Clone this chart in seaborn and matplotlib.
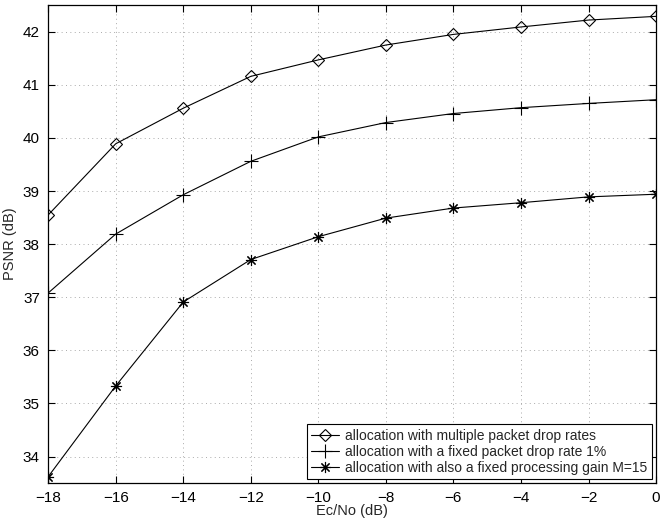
import matplotlib
matplotlib.use("Agg")
import matplotlib.pyplot as plt
import seaborn as sns
import pandas as pd

# Ec/No sweep (dB)
ecno = [-18, -16, -14, -12, -10, -8, -6, -4, -2, 0]

# PSNR (dB) for each allocation scheme
psnr_multi = [38.55, 39.89, 40.56, 41.16, 41.47, 41.75, 41.95, 42.09, 42.22, 42.29]
psnr_fixed_drop = [37.08, 38.19, 38.93, 39.56, 40.02, 40.29, 40.46, 40.57, 40.65, 40.72]
psnr_fixed_gain = [33.62, 35.33, 36.91, 37.71, 38.14, 38.49, 38.68, 38.78, 38.89, 38.94]

labels = [
    "allocation with multiple packet drop rates",
    "allocation with a fixed packet drop rate 1%",
    "allocation with also a fixed processing gain M=15",
]

sns.set_theme(style="white")
plt.rcParams["font.family"] = ["Liberation Sans", "DejaVu Sans"]

fig = plt.figure(figsize=(6.6, 5.2), dpi=100)
ax = fig.add_axes([0.073, 0.071, 0.921, 0.919])

series = [psnr_multi, psnr_fixed_drop, psnr_fixed_gain]
markers = ["D", "+", (8, 2, 0)]
msizes = [6.5, 10, 8]
for vals, lab, mk, ms in zip(series, labels, markers, msizes):
    df = pd.DataFrame({"x": ecno, "y": vals})
    sns.lineplot(
        data=df, x="x", y="y", ax=ax, color="black", linewidth=0.8,
        marker=mk, markersize=ms, markerfacecolor="none",
        markeredgecolor="black", markeredgewidth=0.8, label=lab,
    )

ax.set_xlim(-18, 0)
ax.set_ylim(33.5, 42.5)
ax.set_xticks(range(-18, 1, 2))
ax.set_yticks(range(34, 43))
ax.set_xticklabels([("\u2212" + str(-v)) if v < 0 else str(v) for v in range(-18, 1, 2)])
ax.grid(True, color="#aaaaaa", linestyle=(0, (1, 3.5)), linewidth=0.7)
ax.tick_params(direction="in", length=5, width=0.8, labelsize=11, colors="black",
               top=True, right=True, bottom=True, left=True, pad=6)
for sp in ax.spines.values():
    sp.set_color("black")
    sp.set_linewidth(0.9)

ax.set_xlabel("Ec/No (dB)", fontsize=10.5, labelpad=-1)
ax.set_ylabel("PSNR (dB)", fontsize=10.5, labelpad=4)

leg = ax.legend(loc="lower right", fontsize=10, frameon=True, fancybox=False,
                edgecolor="black", framealpha=1, borderpad=0.3, labelspacing=0.15,
                handlelength=2.0, handletextpad=0.5, borderaxespad=0.3)
leg.get_frame().set_linewidth(0.8)

fig.savefig("out.png", dpi=100)
